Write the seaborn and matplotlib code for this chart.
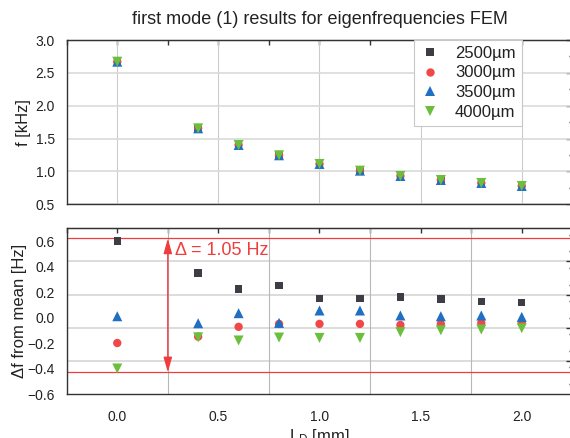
import numpy as np
import pandas as pd
import matplotlib
matplotlib.use("Agg")
import matplotlib.pyplot as plt
from matplotlib.ticker import MultipleLocator, FixedLocator
import seaborn as sns

# ---------------- data ----------------
L_D = [0.0, 0.4, 0.6, 0.8, 1.0, 1.2, 1.4, 1.6, 1.8, 2.0]
sizes = ["2500µm", "3000µm", "3500µm", "4000µm"]

f_2500 = [2.67, 1.656, 1.403, 1.246, 1.114, 1.012, 0.931, 0.870, 0.825, 0.779]
f_3000 = [2.67, 1.656, 1.403, 1.246, 1.114, 1.012, 0.931, 0.870, 0.825, 0.779]
f_3500 = [2.67, 1.656, 1.403, 1.246, 1.114, 1.012, 0.931, 0.870, 0.825, 0.779]
f_4000 = [2.67, 1.656, 1.403, 1.246, 1.114, 1.012, 0.931, 0.870, 0.825, 0.779]

df_2500 = [0.60, 0.35, 0.225, 0.25, 0.15, 0.15, 0.162, 0.146, 0.128, 0.12]
df_3000 = [-0.20, -0.15, -0.073, -0.05, -0.05, -0.05, -0.058, -0.05, -0.042, -0.042]
df_3500 = [0.01, -0.045, 0.034, -0.042, 0.055, 0.055, 0.016, 0.01, 0.016, 0.005]
df_4000 = [-0.40, -0.155, -0.18, -0.157, -0.16, -0.16, -0.115, -0.10, -0.094, -0.084]

delta_upper = 0.62
delta_lower = -0.43
delta_label = "Δ = 1.05 Hz"
right_ticks_bottom = [0.44, 0.18, -0.08, -0.34]

title = "first mode (1) results for eigenfrequencies FEM"

# ---------------- style ----------------
sns.set_style("white")
plt.rcParams["font.family"] = ["Liberation Sans", "DejaVu Sans"]
plt.rcParams["text.color"] = "#222222"
plt.rcParams["axes.labelcolor"] = "#222222"
plt.rcParams["xtick.color"] = "#333333"
plt.rcParams["ytick.color"] = "#333333"
plt.rcParams["xtick.labelcolor"] = "#222222"
plt.rcParams["ytick.labelcolor"] = "#222222"
plt.rcParams["mathtext.default"] = "regular"

palette = {sizes[0]: "#3d3d45", sizes[1]: "#f04848", sizes[2]: "#1f6fc2", sizes[3]: "#6cbf3c"}
markers = {sizes[0]: "s", sizes[1]: "o", sizes[2]: "^", sizes[3]: "v"}
marker_sizes = {sizes[0]: 28, sizes[1]: 36, sizes[2]: 52, sizes[3]: 52}
red = "#f03c3c"

top_df = pd.DataFrame({
    "L_D": L_D * 4,
    "f": f_2500 + f_3000 + f_3500 + f_4000,
    "size": sum([[s] * len(L_D) for s in sizes], []),
})
bot_df = pd.DataFrame({
    "L_D": L_D * 4,
    "df": df_2500 + df_3000 + df_3500 + df_4000,
    "size": sum([[s] * len(L_D) for s in sizes], []),
})

W, H = 570, 438
fig = plt.figure(figsize=(W / 100, H / 100), dpi=100)
left_px, right_px = 66.7, 572.3
ax_t = fig.add_axes([left_px / W, 1 - 204.3 / H, (right_px - left_px) / W, (204.3 - 40) / H])
ax_b = fig.add_axes([left_px / W, 1 - 394 / H, (right_px - left_px) / W, (394 - 228.3) / H])

spine_c = "#333333"
for ax in (ax_t, ax_b):
    for sp in ax.spines.values():
        sp.set_color(spine_c)
        sp.set_linewidth(1.0)
    ax.set_xlim(-0.25, 2.25)

# ---- top panel ----
sns.scatterplot(data=top_df, x="L_D", y="f", hue="size", style="size", size="size",
                sizes=marker_sizes, palette=palette, markers=markers, linewidth=0,
                ax=ax_t, zorder=3, legend=True)
ax_t.set_ylim(0.5, 3.0)
ax_t.xaxis.set_major_locator(MultipleLocator(0.5))
ax_t.xaxis.set_minor_locator(MultipleLocator(0.25))
ax_t.yaxis.set_major_locator(MultipleLocator(0.5))
ax_t.yaxis.set_minor_locator(MultipleLocator(0.25))
ax_t.grid(True, which="major", axis="x", color="#cccccc", lw=0.8, zorder=0)
ax_t.grid(True, which="major", axis="y", color="#dadada", lw=1.2, zorder=0)
ax_t.set_axisbelow(True)
ax_t.tick_params(axis="both", which="major", direction="out", length=4, width=1, labelsize=10, pad=4.5)
ax_t.tick_params(axis="both", which="minor", direction="out", length=2.5, width=1)
ax_t.tick_params(axis="x", which="both", length=3.5, labelbottom=False)
ax_t.set_xlabel("")
ax_t.set_ylabel("f [kHz]", fontsize=12)
ax_t.yaxis.set_label_coords(-0.071, 0.5)

sec = ax_t.secondary_xaxis("top")
sec.xaxis.set_major_locator(MultipleLocator(0.25))
sec.tick_params(direction="in", length=3.5, width=1, labeltop=False)
sec2 = ax_t.secondary_yaxis("right")
sec2.yaxis.set_major_locator(MultipleLocator(0.5))
sec2.yaxis.set_minor_locator(MultipleLocator(0.25))
sec2.tick_params(which="major", direction="in", length=4, width=1, labelright=False)
sec2.tick_params(which="minor", direction="in", length=2.5, width=1)

leg = ax_t.legend(loc="upper right", bbox_to_anchor=((521.7 - left_px) / (right_px - left_px), 1.0),
                  frameon=True, fancybox=False, framealpha=1, edgecolor="#c8c8c8",
                  fontsize=12, borderaxespad=0, handletextpad=0.9, labelspacing=0.27,
                  borderpad=0.36, handlelength=1.2)
leg.get_frame().set_linewidth(0.8)

fig.text((left_px + right_px) / 2 / W, 1 - 20 / H, title, ha="center", va="center", fontsize=13)

# ---- bottom panel ----
for yv in right_ticks_bottom:
    ax_b.axhline(yv, color="#dcdcdc", lw=1.4, zorder=0)
for yv in (delta_upper, delta_lower):
    ax_b.axhline(yv, color=red, lw=0.9, zorder=1)

sns.scatterplot(data=bot_df, x="L_D", y="df", hue="size", style="size", size="size",
                sizes=marker_sizes, palette=palette, markers=markers, linewidth=0,
                ax=ax_b, zorder=3, legend=False)
ax_b.set_ylim(-0.6, 0.7)
ax_b.xaxis.set_major_locator(MultipleLocator(0.5))
ax_b.xaxis.set_minor_locator(MultipleLocator(0.25))
ax_b.yaxis.set_major_locator(FixedLocator([-0.6, -0.4, -0.2, 0.0, 0.2, 0.4, 0.6]))
ax_b.yaxis.set_minor_locator(MultipleLocator(0.1))
ax_b.grid(True, which="minor", axis="x", color="#b8b8b8", lw=0.8, zorder=0)
ax_b.grid(False, which="major", axis="x")
ax_b.set_axisbelow(True)
ax_b.tick_params(axis="both", which="major", direction="out", length=4, width=1, labelsize=10, pad=4.5)
ax_b.tick_params(axis="both", which="minor", direction="out", length=2.5, width=1)
ax_b.tick_params(axis="x", which="both", length=3.5)
ax_b.tick_params(axis="x", which="major", pad=8)
ax_b.set_xlabel("L$_D$ [mm]", fontsize=12)
ax_b.xaxis.set_label_coords(0.5, -0.2)
ax_b.set_ylabel("Δf from mean [Hz]", fontsize=12)
ax_b.yaxis.set_label_coords(-0.079, 0.5)

secb = ax_b.secondary_xaxis("top")
secb.xaxis.set_major_locator(MultipleLocator(0.25))
secb.tick_params(direction="in", length=3.5, width=1, labeltop=False)
secb2 = ax_b.secondary_yaxis("right")
secb2.set_yticks(right_ticks_bottom)
secb2.yaxis.set_minor_locator(MultipleLocator(0.1295))
secb2.tick_params(which="major", direction="in", length=4, width=1, labelright=False)
secb2.tick_params(which="minor", direction="in", length=2.5, width=1)

ax_b.annotate("", xy=(0.25, delta_upper), xytext=(0.25, delta_lower),
              arrowprops=dict(arrowstyle="<|-|>,head_length=0.6,head_width=0.17",
                              color=red, lw=1.0, shrinkA=0, shrinkB=0, mutation_scale=15),
              zorder=4)
ax_b.text(0.285, 0.525, delta_label, color=red, fontsize=13, ha="left", va="center", zorder=4)

fig.savefig("out.png", dpi=100)
